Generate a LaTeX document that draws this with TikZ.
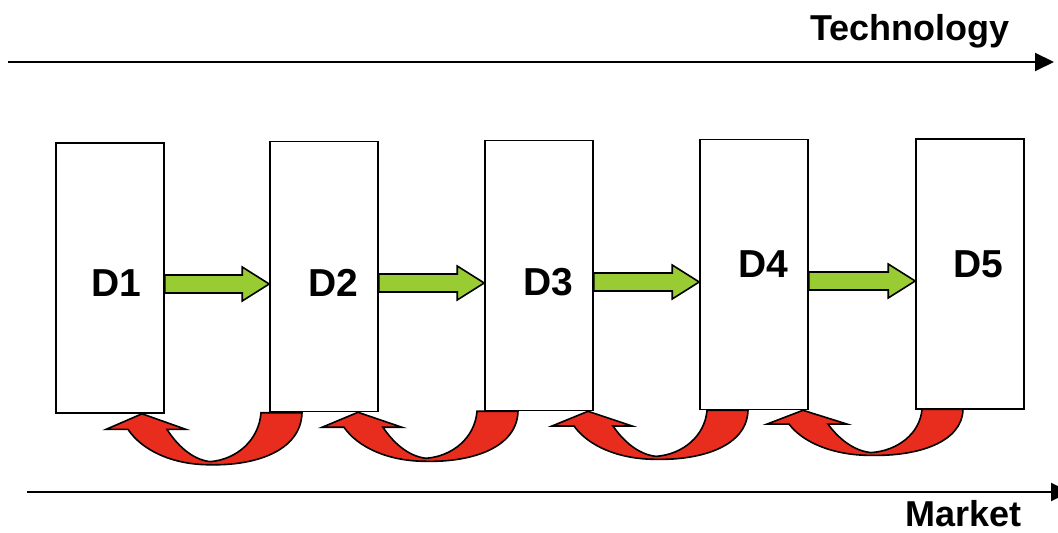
\documentclass[tikz,border=0pt]{standalone}
\usepackage{fontspec}
\setmainfont{Liberation Sans}
\usetikzlibrary{arrows.meta,calc}
\definecolor{fwdgreen}{RGB}{153,204,51}
\definecolor{backred}{RGB}{232,45,30}

\tikzset{
  stage/.style={draw=black, line width=1.6pt, fill=white,
    minimum width=108pt, minimum height=270pt, inner sep=0pt},
  stagelabel/.style={font=\fontsize{39}{42}\selectfont\bfseries, inner sep=0pt},
  axislabel/.style={font=\fontsize{36}{40}\selectfont\bfseries, inner sep=0pt, anchor=base west},
  axis/.style={line width=2pt, -{Triangle[length=19pt,width=18pt]}},
  fwd/.style={fill=fwdgreen, draw=black, line width=1.6pt, line join=miter},
  back/.style={fill=backred, draw=black, line width=1.6pt, line join=miter},
}

% block arrow from a start point to a tip point (same height)
\newcommand\fwdarrow[2]{%
  \filldraw[fwd] ($(#1)+(0,9)$) -- ($(#2)+(-27,9)$) -- ($(#2)+(-27,17)$) -- (#2)
    -- ($(#2)+(-27,-17)$) -- ($(#2)+(-27,-9)$) -- ($(#1)+(0,-9)$) -- cycle;}

% curved return arrow; #1 is its tip, #2 a vertical scale
\newcommand\backarrow[2]{%
  \begin{scope}[shift={(#1)}, yscale=#2]
    \filldraw[back] (0,0) -- (44,-15) -- (25,-15)
      .. controls (35,-30) and (50,-44) .. (68,-46)
      .. controls (95,-44) and (117,-25) .. (119,1)
      -- (160,1)
      .. controls (159,-35) and (115,-50) .. (68,-49)
      .. controls (30,-49) and (0,-35) .. (-14,-15)
      -- (-36,-15) -- cycle;
  \end{scope}}

\begin{document}
\begin{tikzpicture}[x=1pt,y=1pt]
\useasboundingbox (0,0) rectangle (1058,533);
\clip (0,0) rectangle (1058,533);
\fill[white] (0,0) rectangle (1058,533);

% axes
\coordinate (techstart) at (8,471);
\coordinate (techend) at (1054,471);
\draw[axis] (techstart) -- (techend);
\node[axislabel] (tech) at (810,492) {Technology};

\coordinate (mktstart) at (27,41);
\coordinate (mktend) at (1070,41);
\draw[axis] (mktstart) -- (mktend);
\node[axislabel] (mkt) at (905,6) {Market};

% stages
\node[stage] (d1) at (110,255) {};
\node[stage] (d2) at (324,256.5) {};
\node[stage] (d3) at (539,257.5) {};
\node[stage] (d4) at (754,258.5) {};
\node[stage] (d5) at (970,259) {};

\node[stagelabel] (l1) at (116,250) {D1};
\node[stagelabel] (l2) at (333,250) {D2};
\node[stagelabel] (l3) at (548,251) {D3};
\node[stagelabel] (l4) at (763,269) {D4};
\node[stagelabel] (l5) at (978,269) {D5};

% forward arrows
\coordinate (g1s) at ([yshift=-6pt]d1.east);   \coordinate (g1t) at (d2.west |- g1s);
\coordinate (g2s) at ([yshift=-6.5pt]d2.east); \coordinate (g2t) at (d3.west |- g2s);
\coordinate (g3s) at ([yshift=-6.5pt]d3.east); \coordinate (g3t) at (d4.west |- g3s);
\coordinate (g4s) at ([yshift=-6.5pt]d4.east); \coordinate (g4t) at (d5.west |- g4s);
\fwdarrow{g1s}{g1t}
\fwdarrow{g2s}{g2t}
\fwdarrow{g3s}{g3t}
\fwdarrow{g4s}{g4t}

% return arrows
\coordinate (r1) at ([xshift=32pt]d1.south);
\coordinate (r2) at ([xshift=34pt]d2.south);
\coordinate (r3) at ([xshift=49pt]d3.south);
\coordinate (r4) at ([xshift=49pt]d4.south);
\backarrow{r1}{1.04}
\backarrow{r2}{1.0}
\backarrow{r3}{0.98}
\backarrow{r4}{0.92}
\end{tikzpicture}
\end{document}
